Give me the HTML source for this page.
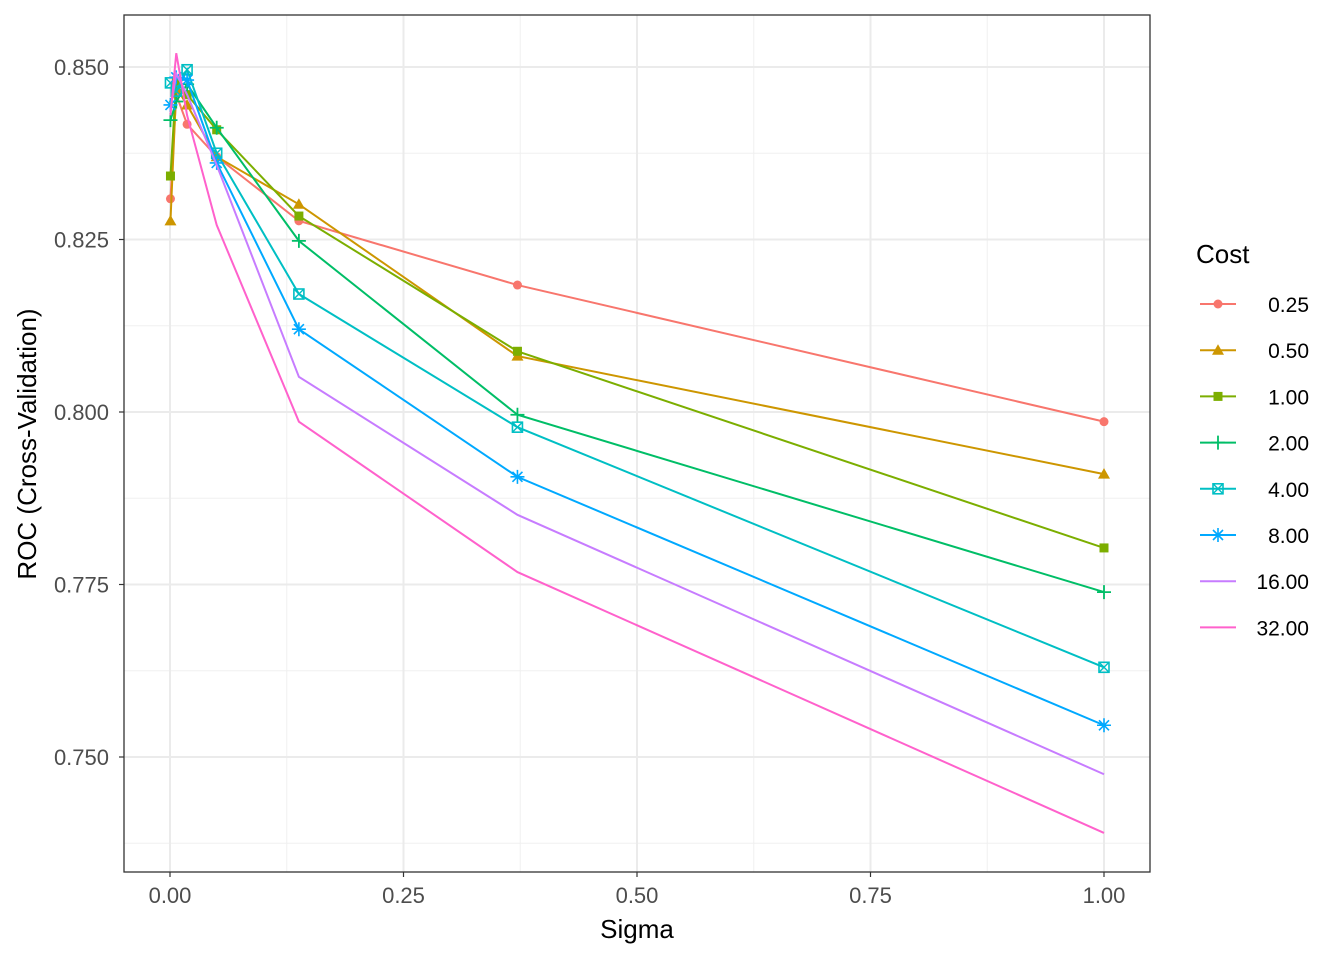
<!DOCTYPE html>
<html><head><meta charset="utf-8"><style>
body{margin:0;background:#fff;}
svg text{font-family:"Liberation Sans",Arial,sans-serif;}
</style></head><body>
<svg id="chart" width="1344" height="960" xmlns="http://www.w3.org/2000/svg">
<rect x="0" y="0" width="1344" height="960" fill="#fff"/>
<g id="grid"></g><g id="series"></g><g id="axes"></g><g id="legend"></g>
</svg>
<script>
const sigmas=[0.0005,0.0067,0.0183,0.05,0.138,0.372,1.0];
const costs=["0.25","0.50","1.00","2.00","4.00","8.00","16.00","32.00"];
const roc025=[0.8309,0.846,0.8417,0.837,0.8277,0.8184,0.7986];
const roc050=[0.8277,0.847,0.8445,0.837,0.8301,0.8081,0.7910];
const roc1=[0.8342,0.848,0.846,0.8409,0.8284,0.8088,0.7803];
const roc2=[0.8423,0.845,0.8475,0.8412,0.8248,0.7996,0.7739];
const roc4=[0.8477,0.8465,0.8496,0.8375,0.8171,0.7978,0.7630];
const roc8=[0.8445,0.8485,0.8481,0.8361,0.8120,0.7906,0.7546];
const roc16=[0.8438,0.849,0.846,0.8358,0.8051,0.7851,0.7475];
const roc32=[0.843,0.852,0.843,0.8271,0.7986,0.7768,0.7390];
const xTicks=[0,0.25,0.5,0.75,1.0];
const xTickLabels=["0.00","0.25","0.50","0.75","1.00"];
const yTicks=[0.75,0.775,0.8,0.825,0.85];
const yTickLabels=["0.750","0.775","0.800","0.825","0.850"];
const allSeries=[roc025,roc050,roc1,roc2,roc4,roc8,roc16,roc32];
const colors=["#F8766D","#CD9600","#7CAE00","#00BE67","#00BFC4","#00A9FF","#C77CFF","#FF61CC"];
const shapes=["circle","triangle","square","plus","boxx","star","none","none"];
const L=124,R=1150,T=15,B=872;
const X=v=>170+v*934;
const Y=v=>67+(0.85-v)*6900;
const NS="http://www.w3.org/2000/svg";
function mk(tag,attrs,parent){const e=document.createElementNS(NS,tag);for(const k in attrs)e.setAttribute(k,attrs[k]);parent.appendChild(e);return e;}
const grid=document.getElementById('grid'),ser=document.getElementById('series'),ax=document.getElementById('axes'),leg=document.getElementById('legend');
mk('rect',{x:L,y:T,width:R-L,height:B-T,fill:'#fff'},grid);
for(let i=0;i<yTicks.length-1;i++){const m=(yTicks[i]+yTicks[i+1])/2;mk('line',{x1:L,x2:R,y1:Y(m),y2:Y(m),stroke:'#f0f0f0','stroke-width':1},grid);}
mk('line',{x1:L,x2:R,y1:Y(0.7375),y2:Y(0.7375),stroke:'#f0f0f0','stroke-width':1},grid);
for(let i=0;i<xTicks.length-1;i++){const m=(xTicks[i]+xTicks[i+1])/2;mk('line',{x1:X(m),x2:X(m),y1:T,y2:B,stroke:'#f0f0f0','stroke-width':1},grid);}
yTicks.forEach((t,i)=>{mk('line',{x1:L,x2:R,y1:Y(t),y2:Y(t),stroke:'#ebebeb','stroke-width':2},grid);
 mk('line',{x1:L-5,x2:L,y1:Y(t),y2:Y(t),stroke:'#333','stroke-width':1.2},ax);
 const tx=mk('text',{x:L-15,y:Y(t)+8,'text-anchor':'end','font-size':22,fill:'#4d4d4d'},ax);tx.textContent=yTickLabels[i];
 
 });
xTicks.forEach((t,i)=>{mk('line',{x1:X(t),x2:X(t),y1:T,y2:B,stroke:'#ebebeb','stroke-width':2},grid);
 mk('line',{x1:X(t),x2:X(t),y1:B,y2:B+5,stroke:'#333','stroke-width':1.2},ax);
 const tx=mk('text',{x:X(t),y:903,'text-anchor':'middle','font-size':22,fill:'#4d4d4d'},ax);tx.textContent=xTickLabels[i];
 
 });
mk('rect',{x:L,y:T,width:R-L,height:B-T,fill:'none',stroke:'#333','stroke-width':1.3},ax);
let t=mk('text',{x:(L+R)/2,y:938,'text-anchor':'middle','font-size':26,fill:'#000'},ax);t.textContent='Sigma';


t=mk('text',{x:0,y:0,'text-anchor':'middle','font-size':26,fill:'#000',transform:'translate(36,444) rotate(-90)'},ax);t.textContent='ROC (Cross-Validation)';


function marker(shape,x,y,c,p){
 if(shape==='circle')mk('circle',{cx:x,cy:y,r:4.5,fill:c},p);
 else if(shape==='triangle')mk('polygon',{points:`${x},${y-6} ${x-6},${y+4.5} ${x+6},${y+4.5}`,fill:c},p);
 else if(shape==='square')mk('rect',{x:x-4.5,y:y-4.5,width:9,height:9,fill:c},p);
 else if(shape==='plus'){mk('path',{d:`M${x-7} ${y}H${x+7}M${x} ${y-7}V${y+7}`,stroke:c,'stroke-width':1.8,fill:'none'},p);}
 else if(shape==='boxx'){mk('rect',{x:x-5,y:y-5,width:10,height:10,fill:'none',stroke:c,'stroke-width':1.6},p);mk('path',{d:`M${x-5} ${y-5}L${x+5} ${y+5}M${x-5} ${y+5}L${x+5} ${y-5}`,stroke:c,'stroke-width':1.4},p);}
 else if(shape==='star'){mk('path',{d:`M${x-7} ${y}H${x+7}M${x} ${y-7}V${y+7}M${x-5} ${y-5}L${x+5} ${y+5}M${x-5} ${y+5}L${x+5} ${y-5}`,stroke:c,'stroke-width':1.6},p);}
}
allSeries.forEach((vals,si)=>{
 const g=mk('g',{},ser);
 
 
 mk('polyline',{points:vals.map((v,i)=>X(sigmas[i])+','+Y(v)).join(' '),fill:'none',stroke:colors[si],'stroke-width':2},g);
 vals.forEach((v,i)=>marker(shapes[si],X(sigmas[i]),Y(v),colors[si],g));
});
t=mk('text',{x:1196,y:263,'font-size':26,fill:'#000'},leg);t.textContent='Cost';


costs.forEach((c,i)=>{const y=304+i*46.2;const g=mk('g',{},leg);
 
 
 mk('line',{x1:1200,x2:1236,y1:y,y2:y,stroke:colors[i],'stroke-width':2},g);
 marker(shapes[i],1218,y,colors[i],g);
 const tx=mk('text',{x:1309,y:y+8,'text-anchor':'end','font-size':21,fill:'#000'},g);tx.textContent=c;});
</script>
</body></html>
